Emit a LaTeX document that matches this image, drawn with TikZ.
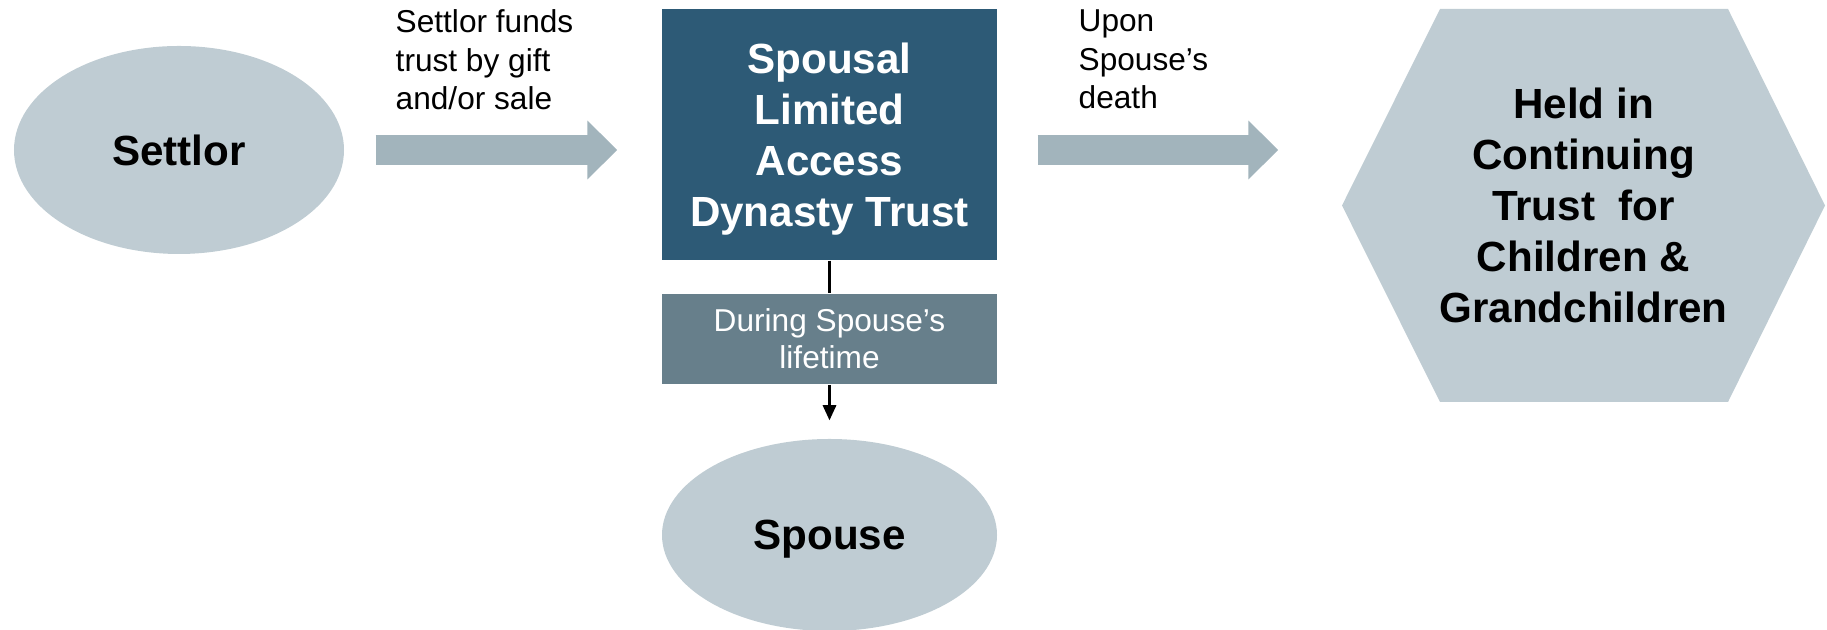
\documentclass[tikz,border=0pt]{standalone}
\usepackage{fontspec}
\setmainfont{Liberation Sans}
\usetikzlibrary{shapes.geometric, arrows.meta, positioning}

\definecolor{partyfill}{HTML}{BFCCD3}
\definecolor{flowfill}{HTML}{A2B4BC}
\definecolor{trustfill}{HTML}{2D5A76}
\definecolor{notefill}{HTML}{677F8B}

\begin{document}
\begin{tikzpicture}[
    party/.style={ellipse, fill=partyfill, inner sep=0pt, font=\fontsize{12}{14.4}\selectfont\bfseries},
    box/.style={rectangle, inner sep=0pt, align=center, minimum width=3.35cm},
    caption/.style={anchor=north west, align=left, inner sep=0pt, font=\fontsize{9}{11}\selectfont},
    bigarrow/.style={draw=flowfill, line width=8.8pt, -{Triangle[width=16.2pt,length=8.5pt]}},
    heldshape/.style={path picture={
        \fill[partyfill] (path picture bounding box.west)
            -- ([xshift=0.98cm]path picture bounding box.north west)
            -- ([xshift=-0.97cm]path picture bounding box.north east)
            -- (path picture bounding box.east)
            -- ([xshift=-0.97cm]path picture bounding box.south east)
            -- ([xshift=0.98cm]path picture bounding box.south west) -- cycle;}},
]
    \useasboundingbox (0,0) rectangle (18.27,6.30);
    \node[party, minimum width=3.30cm, minimum height=2.08cm] (settlor) at (1.79,4.80) {Settlor};
    \node[box, fill=trustfill, text=white, minimum height=2.51cm, text depth=0pt, font=\fontsize{12}{14.5}\selectfont\bfseries] (trust) at (8.295,4.955) {Spousal\\Limited\\Access\\Dynasty Trust};
    \node[box, fill=notefill, text=white, minimum height=0.905cm, font=\fontsize{9}{10.6}\selectfont] (during) at (8.295,2.91) {During Spouse’s\\lifetime};
    \node[party, minimum width=3.35cm, minimum height=1.92cm, text depth=0pt] (spouse) at (8.295,0.95) {Spouse};
    \node[box, heldshape, minimum width=4.83cm, minimum height=3.93cm, font=\fontsize{12}{14.5}\selectfont\bfseries] (held) at (15.835,4.245) {Held in\\Continuing\\Trust\ \ for\\Children \&\\Grandchildren};
    \node[caption] (funds) at (3.95,6.21) {Settlor funds\\trust by gift\\and/or sale};
    \node[caption] (death) at (10.78,6.21) {Upon\\Spouse’s\\death};
    \draw[bigarrow, shorten <=0.31cm, shorten >=0.44cm] (settlor.east) -- (settlor.east -| trust.west);
    \draw[bigarrow, shorten <=0.40cm, shorten >=0.63cm] (settlor.east -| trust.east) -- (settlor.east -| held.west);
    \draw[line width=0.6pt] (trust) -- (during);
    \draw[line width=0.6pt, -{Triangle[width=3.8pt,length=4.3pt]}, shorten >=0.18cm] (during) -- (spouse);
\end{tikzpicture}
\end{document}
